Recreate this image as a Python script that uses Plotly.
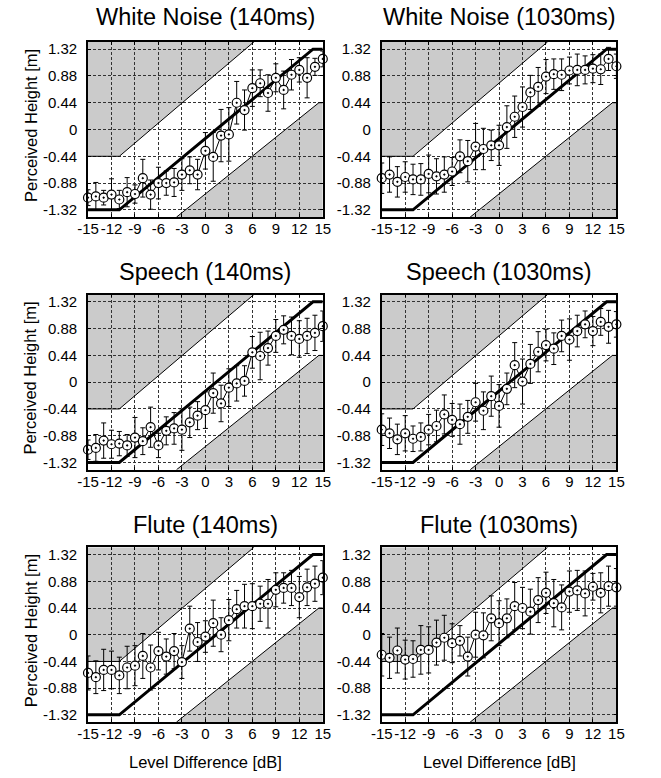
import plotly.graph_objects as go
from plotly.subplots import make_subplots

# ---------------- data ----------------
level_db = [-15, -14, -13, -12, -11, -10, -9, -8, -7, -6, -5, -4, -3, -2, -1, 0,
            1, 2, 3, 4, 5, 6, 7, 8, 9, 10, 11, 12, 13, 14, 15]

wn140_mean = [-1.12, -1.10, -1.12, -1.07, -1.15, -1.03, -1.06, -0.80, -1.07, -0.88, -0.88,
              -0.87, -0.74, -0.67, -0.74, -0.35, -0.45, -0.10, -0.08, 0.44, 0.32, 0.68,
              0.76, 0.60, 0.85, 0.65, 0.90, 0.98, 0.85, 1.03, 1.16]
wn140_err = [0.13, 0.23, 0.12, 0.26, 0.15, 0.24, 0.15, 0.31, 0.24, 0.26, 0.20, 0.23, 0.26,
             0.22, 0.25, 0.30, 0.40, 0.43, 0.44, 0.35, 0.33, 0.30, 0.22, 0.30, 0.23, 0.31,
             0.25, 0.20, 0.33, 0.14, 0.13]

wn1030_mean = [-0.80, -0.74, -0.86, -0.78, -0.82, -0.82, -0.73, -0.77, -0.74, -0.69, -0.44,
               -0.52, -0.28, -0.32, -0.26, -0.26, 0.04, 0.21, 0.37, 0.61, 0.70, 0.87, 0.91,
               0.90, 0.97, 0.98, 0.98, 1.00, 0.99, 1.16, 1.04]
wn1030_err = [0.25, 0.29, 0.25, 0.25, 0.25, 0.26, 0.31, 0.29, 0.29, 0.23, 0.27, 0.34, 0.38,
              0.34, 0.25, 0.33, 0.35, 0.34, 0.33, 0.28, 0.32, 0.28, 0.25, 0.26, 0.22, 0.26,
              0.23, 0.23, 0.25, 0.19, 0.20]

sp140_mean = [-1.11, -1.08, -0.96, -1.02, -1.01, -1.04, -0.91, -0.97, -0.74, -1.04, -0.80,
              -0.76, -0.78, -0.66, -0.55, -0.46, -0.18, -0.35, -0.09, -0.02, 0.02, 0.49,
              0.43, 0.56, 0.76, 0.86, 0.76, 0.71, 0.76, 0.81, 0.92]
sp140_err = [0.16, 0.22, 0.29, 0.23, 0.20, 0.18, 0.33, 0.22, 0.33, 0.20, 0.23, 0.26, 0.34,
             0.25, 0.23, 0.30, 0.33, 0.30, 0.31, 0.29, 0.25, 0.26, 0.39, 0.28, 0.27, 0.23,
             0.31, 0.30, 0.29, 0.29, 0.25]

sp1030_mean = [-0.78, -0.84, -0.94, -0.84, -0.93, -0.90, -0.78, -0.72, -0.53, -0.62, -0.69,
               -0.57, -0.33, -0.47, -0.23, -0.39, -0.11, 0.28, 0.01, 0.30, 0.50, 0.61, 0.55,
               0.76, 0.70, 0.84, 0.95, 0.84, 0.99, 0.91, 0.95]
sp1030_err = [0.26, 0.25, 0.25, 0.29, 0.21, 0.23, 0.25, 0.26, 0.32, 0.27, 0.33, 0.27, 0.31,
              0.31, 0.33, 0.35, 0.26, 0.37, 0.37, 0.32, 0.33, 0.26, 0.26, 0.26, 0.34, 0.26,
              0.22, 0.24, 0.22, 0.27, 0.21]

fl140_mean = [-0.63, -0.70, -0.58, -0.58, -0.67, -0.54, -0.51, -0.35, -0.54, -0.27, -0.36,
              -0.27, -0.45, 0.10, -0.12, -0.03, 0.19, 0.00, 0.24, 0.42, 0.47, 0.47, 0.51,
              0.51, 0.74, 0.77, 0.77, 0.62, 0.78, 0.84, 0.94]
fl140_err = [0.28, 0.27, 0.34, 0.31, 0.30, 0.35, 0.33, 0.37, 0.37, 0.31, 0.29, 0.29, 0.27,
             0.37, 0.32, 0.26, 0.38, 0.28, 0.34, 0.31, 0.36, 0.37, 0.29, 0.40, 0.28, 0.25,
             0.29, 0.34, 0.30, 0.29, 0.28]

fl1030_mean = [-0.33, -0.38, -0.26, -0.41, -0.40, -0.25, -0.25, -0.13, -0.05, -0.14, -0.10,
               -0.36, 0.00, -0.01, 0.27, 0.19, 0.27, 0.47, 0.44, 0.38, 0.57, 0.69, 0.52,
               0.45, 0.71, 0.73, 0.68, 0.79, 0.69, 0.80, 0.78]
fl1030_err = [0.35, 0.34, 0.37, 0.32, 0.30, 0.40, 0.38, 0.37, 0.37, 0.32, 0.25, 0.32, 0.37,
              0.37, 0.37, 0.37, 0.32, 0.39, 0.34, 0.37, 0.37, 0.34, 0.39, 0.37, 0.34, 0.33,
              0.37, 0.22, 0.33, 0.33, 0.31]

panel_titles = ["White Noise (140ms)", "White Noise (1030ms)",
                "Speech (140ms)", "Speech (1030ms)",
                "Flute (140ms)", "Flute (1030ms)"]
panel_means = [wn140_mean, wn1030_mean, sp140_mean, sp1030_mean, fl140_mean, fl1030_mean]
panel_errs = [wn140_err, wn1030_err, sp140_err, sp1030_err, fl140_err, fl1030_err]

# reference (ideal) response line and the tolerance band borders
ideal_db = [-15, -11, 13.75, 15]
ideal_h = [-1.32, -1.32, 1.32, 1.32]
upper_db = [-15, -11, 6.2]
upper_h = [-0.44, -0.44, 1.44]
lower_db = [-3.7, 14.5, 15]
lower_h = [-1.44, 0.44, 0.44]

x_tick_vals = [-15, -12, -9, -6, -3, 0, 3, 6, 9, 12, 15]
x_tick_text = ["-15", "-12", "-9", "-6", "-3", "0", "3", "6", "9", "12", "15"]
y_tick_vals = [-1.32, -0.88, -0.44, 0, 0.44, 0.88, 1.32]
y_tick_text = ["-1.32", "-0.88", "-0.44", "0", "0.44", "0.88", "1.32"]

x_title = "Level Difference [dB]"
y_title = "Perceived Height [m]"

# ---------------- layout geometry (pixels) ----------------
W, H = 661, 778
col_px = [(79.3, 321.0), (381.7, 623.3)]
row_px = [(41.0, 216.7), (294.3, 470.0), (547.7, 723.0)]
title_y_px = [16.5, 271.5, 525.0]
X_RANGE = [-15, 15]
Y_RANGE = [-1.44, 1.44]

FONT = "Liberation Sans, Arial, Helvetica, sans-serif"
GRAY = "#cbcbcb"

fig = make_subplots(rows=3, cols=2)


def path_from(xs, ys):
    pts = ["{} {},{}".format("M" if i == 0 else "L", x, y) for i, (x, y) in enumerate(zip(xs, ys))]
    return " ".join(pts) + " Z"


annotations = []
shapes = []
for k in range(6):
    r, c = k // 2, k % 2
    xref = "x" if k == 0 else "x{}".format(k + 1)
    yref = "y" if k == 0 else "y{}".format(k + 1)
    xa = "xaxis" if k == 0 else "xaxis{}".format(k + 1)
    ya = "yaxis" if k == 0 else "yaxis{}".format(k + 1)

    # gray excluded regions (below the grid)
    ul_x = upper_db + [upper_db[0]]
    ul_y = upper_h + [Y_RANGE[1]]
    lr_x = lower_db + [lower_db[-1]]
    lr_y = lower_h + [Y_RANGE[0]]
    for px_, py_ in ((ul_x, ul_y), (lr_x, lr_y)):
        shapes.append(dict(type="path", path=path_from(px_, py_), xref=xref, yref=yref,
                           fillcolor=GRAY, line=dict(width=0), layer="below"))

    # band borders (thin)
    for bx, by in ((upper_db, upper_h), (lower_db, lower_h)):
        fig.add_trace(go.Scatter(x=bx, y=by, mode="lines", line=dict(color="black", width=1),
                                 showlegend=False, hoverinfo="skip"), row=r + 1, col=c + 1)
    # ideal line (thick)
    fig.add_trace(go.Scatter(x=ideal_db, y=ideal_h, mode="lines",
                             line=dict(color="black", width=3), showlegend=False,
                             hoverinfo="skip"), row=r + 1, col=c + 1)
    # data
    fig.add_trace(go.Scatter(
        x=level_db, y=panel_means[k], mode="lines+markers",
        line=dict(color="black", width=1),
        marker=dict(symbol="circle-dot", size=9, color="white",
                    line=dict(color="black", width=1.2)),
        error_y=dict(type="data", array=panel_errs[k], color="black", thickness=1, width=2.5),
        cliponaxis=False, showlegend=False), row=r + 1, col=c + 1)

    x0, x1 = col_px[c]
    y0, y1 = row_px[r]
    fig.layout[xa].update(domain=[x0 / W, x1 / W])
    fig.layout[ya].update(domain=[1 - y1 / H, 1 - y0 / H])

    annotations.append(dict(text=panel_titles[k], x=(x0 + x1) / 2 / W, y=1 - title_y_px[r] / H,
                            xref="paper", yref="paper", showarrow=False, xanchor="center",
                            yanchor="middle", font=dict(family=FONT, size=23.5, color="black")))
    if c == 0:
        annotations.append(dict(text=y_title, x=20 / W, y=1 - ((y0 + y1) / 2 - 4) / H,
                                xref="paper", yref="paper", showarrow=False, textangle=-90,
                                xanchor="center", yanchor="middle",
                                font=dict(family=FONT, size=16.5, color="black")))
    if r == 2:
        annotations.append(dict(text=x_title, x=(x0 + x1) / 2 / W, y=1 - 763 / H,
                                xref="paper", yref="paper", showarrow=False,
                                xanchor="center", yanchor="middle",
                                font=dict(family=FONT, size=16.5, color="black")))

axis_common = dict(showline=True, linecolor="black", linewidth=1.6, mirror="ticks",
                   ticks="inside", ticklen=3, tickcolor="black", tickwidth=1,
                   showgrid=True, gridcolor="#333333", gridwidth=1, griddash="3px,2px",
                   zeroline=False, layer="above traces",
                   tickfont=dict(family=FONT, size=15, color="black"))

fig.update_xaxes(range=X_RANGE, tickmode="array", tickvals=x_tick_vals, ticktext=x_tick_text,
                 tickangle=0, ticklabelstandoff=-3, **axis_common)
fig.update_yaxes(range=Y_RANGE, tickmode="array", tickvals=y_tick_vals, ticktext=y_tick_text,
                 ticklabelstandoff=6, **axis_common)

fig.update_layout(width=W, height=H, margin=dict(l=0, r=0, t=0, b=0),
                  paper_bgcolor="white", plot_bgcolor="white",
                  annotations=annotations, shapes=shapes,
                  font=dict(family=FONT, color="black"))

fig.write_html("out.html")
